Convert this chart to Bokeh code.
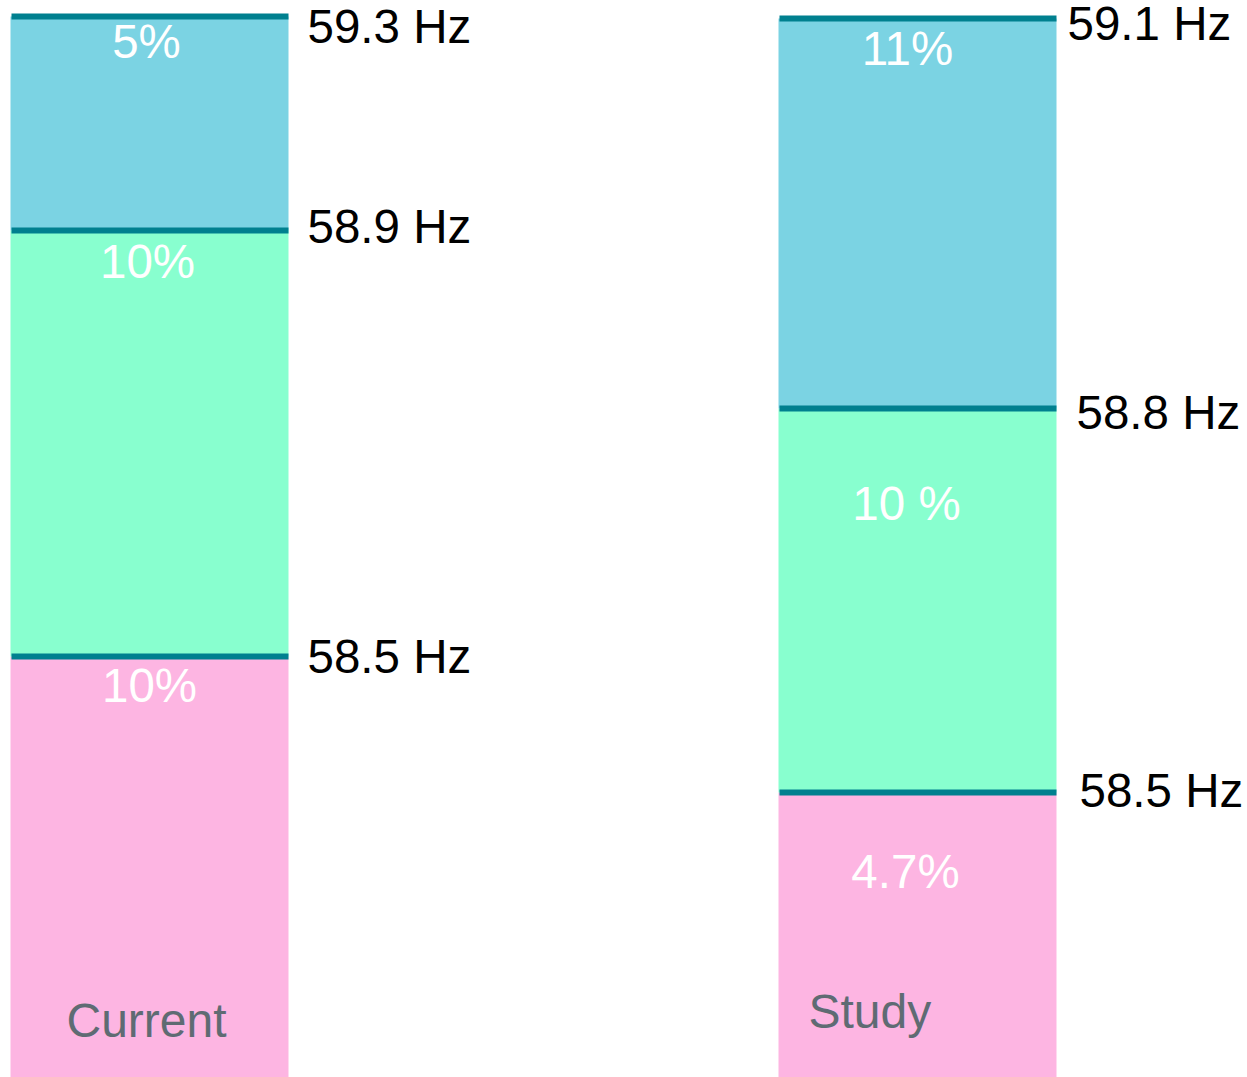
from bokeh.plotting import figure
from bokeh.models import Range1d, ColumnDataSource
from bokeh.core.properties import value
from bokeh.embed import file_html
from bokeh.resources import INLINE
import numpy as np

# ---- data (segment heights, chart units) ----
bars = ["Current", "Study"]
segments = ["low", "mid", "high"]
current_heights = [421, 426, 214]
study_heights = [285, 384, 390]
current_pct = ["10%", "10%", "5%"]
study_pct = ["4.7%", "10 %", "11%"]
current_hz = ["58.5 Hz", "58.9 Hz", "59.3 Hz"]
study_hz = ["58.5 Hz", "58.8 Hz", "59.1 Hz"]
colors = ["#FDB5E2", "#88FFCF", "#7BD3E3"]
line_color = "#00808F"

# ---- layout ----
W, H = 1247, 1077
bar_left = [10, 778]
bar_w = 278
pct_off = [[29, 31, 25], [79, 95, 30]]   # label baseline below segment top (px)
pct_dx = [[0, -2, -3], [-12, -11, -10]]
hz_dx = [[19, 19, 19], [23, 20, 11]]
hz_dy = [[0, -4, 10], [-2, 4, 5]]
name_y = [57, 66]
name_dx = [-3, 0]

p = figure(width=W, height=H, output_backend="svg", toolbar_location=None,
           x_range=Range1d(0, W), y_range=Range1d(0, H), min_border=0)
p.axis.visible = False
p.grid.visible = False
p.outline_line_color = None
p.background_fill_color = "white"

font = value("Liberation Sans")
for bi, (heights, pcts, hzs) in enumerate([(current_heights, current_pct, current_hz),
                                             (study_heights, study_pct, study_hz)]):
    tops = np.cumsum(heights)
    bottoms = tops - np.array(heights)
    x0 = bar_left[bi]
    x1 = x0 + bar_w
    xc = (x0 + x1) / 2
    src = ColumnDataSource(dict(left=[x0] * 3, right=[x1] * 3, bottom=list(bottoms - 20 * (bottoms == 0)),
                                top=list(tops), color=colors))
    p.quad(left="left", right="right", bottom="bottom", top="top", fill_color="color",
           line_color=None, source=src)
    p.segment(x0=[x0 + 1] * 3, x1=[x1] * 3, y0=list(tops), y1=list(tops),
              line_color=line_color, line_width=6)
    for si in range(3):
        p.text(x=[xc], y=[tops[si]], text=[pcts[si]], text_color="white",
               text_font=font, text_font_size="47.5px", text_align="center",
               text_baseline="alphabetic", y_offset=pct_off[bi][si], x_offset=pct_dx[bi][si])
        p.text(x=[x1 + hz_dx[bi][si]], y=[tops[si]], text=[hzs[si]], text_color="black",
               text_font=font, text_font_size="47.5px", text_align="left",
               text_baseline="alphabetic", y_offset=hz_dy[bi][si])
    if bi == 0:
        p.text(x=[xc + name_dx[bi]], y=[name_y[bi]], text=[bars[bi]], text_color="#5F6B73",
               text_font=font, text_font_size="48px", text_align="center",
               text_baseline="alphabetic")
    else:
        p.text(x=[x0 + 30], y=[name_y[bi]], text=[bars[bi]], text_color="#5F6B73",
               text_font=font, text_font_size="48px", text_align="left",
               text_baseline="alphabetic")

open("out.html", "w").write(file_html(p, INLINE))
